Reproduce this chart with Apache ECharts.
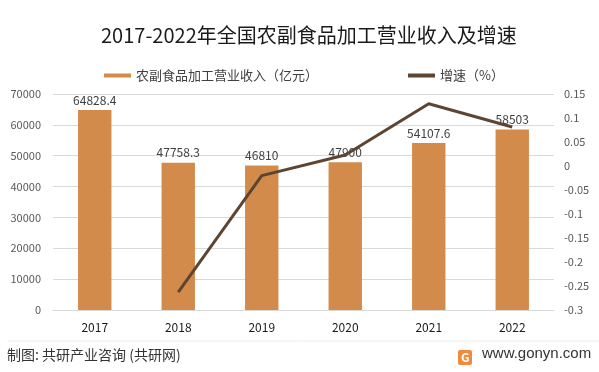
<!DOCTYPE html>
<html><head><meta charset="utf-8">
<script src="https://cdn.jsdelivr.net/npm/echarts@6/dist/echarts.min.js"></script>
<style>html,body{margin:0;padding:0;background:#fff}#c{width:599px;height:372px}</style>
</head><body><div id="c"></div>
<script>
var categories = ['2017','2018','2019','2020','2021','2022'];
var revenue = [64828.4, 47758.3, 46810, 47900, 54107.6, 58503];
var growth = [null, -0.263, -0.02, 0.023, 0.1296, 0.0812];
var leftTicks = [0, 10000, 70000];
var rightTicks = [-0.3, 0.05, 0.15];

var chart = echarts.init(document.getElementById('c'), null, {renderer:'canvas'});
var font = '"Microsoft YaHei","Noto Sans CJK SC",sans-serif';
chart.setOption({
  animation:false,
  textStyle:{fontFamily:font},
  title:{text:'2017-2022年全国农副食品加工营业收入及增速',left:96,top:20,
    textStyle:{fontSize:20,fontWeight:'normal',color:'#1a1a1a',fontFamily:font}},
  legend:{top:64,itemGap:90,left:99,
    textStyle:{fontSize:13,color:'#404040',fontFamily:font},
    data:[{name:'农副食品加工营业收入（亿元）',icon:'rect',itemStyle:{color:'#D38B4C'}},
          {name:'增速（%）',icon:'rect',itemStyle:{color:'#5E4532'}}],
    itemWidth:27,itemHeight:4},
  grid:{left:53,right:45,top:94,bottom:62},
  xAxis:{type:'category',data:categories,
    axisLine:{lineStyle:{color:'#d9d9d9'}},axisTick:{show:false},
    axisLabel:{color:'#1a1a1a',fontSize:12,margin:11}},
  yAxis:[{type:'value',min:leftTicks[0],max:leftTicks[2],interval:leftTicks[1],
    axisLine:{show:false},axisTick:{show:false},
    splitLine:{lineStyle:{color:'#d9d9d9'}},
    axisLabel:{color:'#595959',fontSize:11,margin:12,formatter:function(v){return String(v);}}},
   {type:'value',min:rightTicks[0],max:rightTicks[2],interval:rightTicks[1],
    axisLine:{show:false},axisTick:{show:false},splitLine:{show:false},
    axisLabel:{color:'#595959',fontSize:11,margin:10,
      formatter:function(v){return String(Math.round(v*100)/100);}}}],
  series:[
    {name:'农副食品加工营业收入（亿元）',type:'bar',data:revenue,barWidth:'40%',
     itemStyle:{color:'#D38B4C'},
     label:{show:true,position:'top',color:'#404040',fontSize:12,distance:4}},
    {name:'增速（%）',type:'line',yAxisIndex:1,data:growth,symbol:'none',
     lineStyle:{color:'#5E4532',width:3},itemStyle:{color:'#5E4532'}}
  ],
  graphic:[
    {type:'line',shape:{x1:8,y1:341,x2:599,y2:341},style:{stroke:'#ececec',lineWidth:1}},
    {type:'text',left:7,top:348,style:{text:'制图: 共研产业咨询 (共研网)',fontSize:14,fill:'#333',fontFamily:font}},
    {type:'rect',shape:{x:458,y:350,width:14,height:15,r:2},style:{fill:'#F08A3C'}},
    {type:'text',x:461,y:351,style:{text:'G',fontSize:12,fontWeight:'bold',fill:'#fff',fontFamily:font}},
    {type:'text',left:482,top:346,style:{text:'www.gonyn.com',fontSize:15,fill:'#333',fontFamily:'Arial,"Liberation Sans",sans-serif'}}
  ]
});
</script></body></html>
